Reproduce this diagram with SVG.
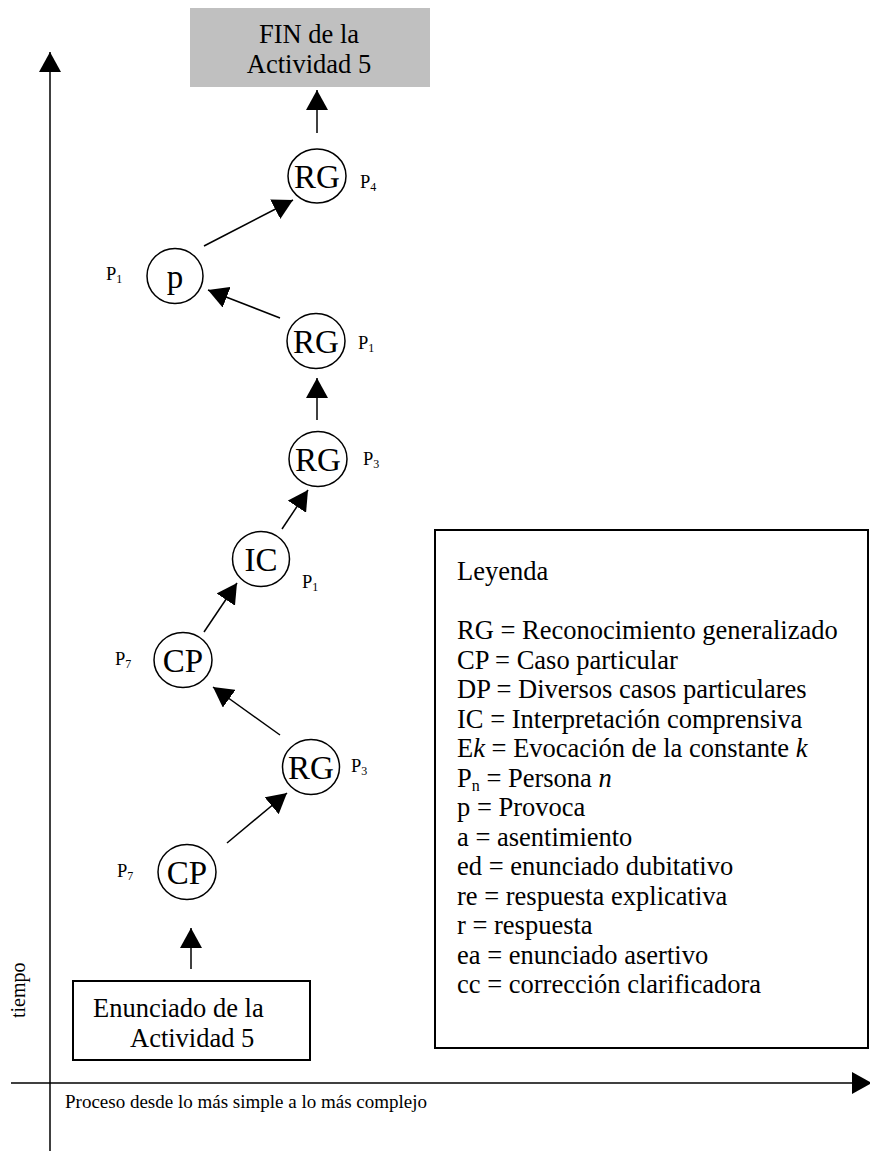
<svg xmlns="http://www.w3.org/2000/svg" width="870" height="1151" viewBox="0 0 870 1151">
  <style>
    .t { font-family: "Liberation Serif", "Times New Roman", serif; fill: #000; }
    .node { fill: #fff; stroke: #000; stroke-width: 1.5; }
    .lbl { font-size: 33px; text-anchor: middle; }
    .p { font-size: 18.5px; }
    .sub { font-size: 12px; }
    .edge { stroke: #000; stroke-width: 1.5; fill: none; marker-end: url(#ah); }
    .leg { font-size: 26.5px; }
  </style>
  <defs>
    <marker id="ah" viewBox="0 0 20 22" refX="20" refY="11" markerWidth="20" markerHeight="22" markerUnits="userSpaceOnUse" orient="auto">
      <path d="M0,0 L20,11 L0,22 Z" fill="#000"/>
    </marker>
  </defs>

  <!-- axes -->
  <g id="axes">
    <line x1="50" y1="1151" x2="50" y2="52" class="edge" stroke-width="2"/>
    <line x1="11" y1="1083" x2="872" y2="1083" class="edge" stroke-width="2"/>
    <text class="t" font-size="20" transform="translate(25,1018) rotate(-90)">tiempo</text>
    <text class="t" font-size="19" x="65" y="1108">Proceso desde lo más simple a lo más complejo</text>
  </g>

  <!-- start and end boxes -->
  <g id="fin">
    <rect x="190" y="8" width="240" height="79" fill="#c0c0c0"/>
    <text class="t" font-size="26.5" x="309" y="43" text-anchor="middle">FIN de la</text>
    <text class="t" font-size="26.5" x="309" y="73" text-anchor="middle">Actividad 5</text>
  </g>
  <g id="enunciado">
    <rect x="73" y="981" width="237" height="79" fill="#fff" stroke="#000" stroke-width="2"/>
    <text class="t" font-size="26.5" x="93" y="1017">Enunciado de la</text>
    <text class="t" font-size="26.5" x="130" y="1047">Actividad 5</text>
  </g>

  <!-- process nodes -->
  <g id="rg4">
    <ellipse class="node" cx="317" cy="176" rx="29" ry="27"/>
    <text class="t lbl" x="317" y="188">RG</text>
    <text class="t p" x="360" y="188">P<tspan class="sub" dy="3">4</tspan></text>
  </g>
  <g id="p1">
    <ellipse class="node" cx="175" cy="276" rx="28" ry="27.5"/>
    <text class="t lbl" x="175" y="288">p</text>
    <text class="t p" x="106" y="280">P<tspan class="sub" dy="3">1</tspan></text>
  </g>
  <g id="rg1">
    <ellipse class="node" cx="316" cy="341" rx="29" ry="27.5"/>
    <text class="t lbl" x="316" y="353">RG</text>
    <text class="t p" x="358" y="349">P<tspan class="sub" dy="3">1</tspan></text>
  </g>
  <g id="rg3a">
    <ellipse class="node" cx="318" cy="459" rx="29" ry="27.5"/>
    <text class="t lbl" x="318" y="471">RG</text>
    <text class="t p" x="363" y="465">P<tspan class="sub" dy="3">3</tspan></text>
  </g>
  <g id="ic1">
    <ellipse class="node" cx="261" cy="559" rx="28.5" ry="27.5"/>
    <text class="t lbl" x="261" y="571">IC</text>
    <text class="t p" x="302" y="588">P<tspan class="sub" dy="3">1</tspan></text>
  </g>
  <g id="cp7a">
    <ellipse class="node" cx="183" cy="660" rx="29" ry="27.5"/>
    <text class="t lbl" x="183" y="672">CP</text>
    <text class="t p" x="115" y="665">P<tspan class="sub" dy="3">7</tspan></text>
  </g>
  <g id="rg3b">
    <ellipse class="node" cx="311" cy="767" rx="28.5" ry="27.5"/>
    <text class="t lbl" x="311" y="779">RG</text>
    <text class="t p" x="351" y="772">P<tspan class="sub" dy="3">3</tspan></text>
  </g>
  <g id="cp7b">
    <ellipse class="node" cx="187" cy="872" rx="29" ry="27.5"/>
    <text class="t lbl" x="187" y="884">CP</text>
    <text class="t p" x="117" y="877">P<tspan class="sub" dy="3">7</tspan></text>
  </g>

  <!-- connectors -->
  <g id="edges">
    <line class="edge" x1="191" y1="969" x2="191" y2="928"/>
    <line class="edge" x1="227" y1="843" x2="287" y2="793"/>
    <line class="edge" x1="280" y1="735" x2="213" y2="687"/>
    <line class="edge" x1="204" y1="632" x2="237" y2="583"/>
    <line class="edge" x1="282" y1="529" x2="308" y2="490"/>
    <line class="edge" x1="317" y1="420" x2="317" y2="378"/>
    <line class="edge" x1="280" y1="318" x2="208" y2="290"/>
    <line class="edge" x1="204" y1="246" x2="293" y2="200"/>
    <line class="edge" x1="317" y1="133" x2="317" y2="90"/>
  </g>

  <!-- legend -->
  <g id="legend">
    <rect x="435" y="530" width="433" height="518" fill="#fff" stroke="#000" stroke-width="2"/>
    <text class="t leg" x="457" y="580">Leyenda</text>
    <text class="t leg" x="457" y="639">RG = Reconocimiento generalizado</text>
    <text class="t leg" x="457" y="668.5">CP = Caso particular</text>
    <text class="t leg" x="457" y="698">DP = Diversos casos particulares</text>
    <text class="t leg" x="457" y="727.5">IC = Interpretación comprensiva</text>
    <text class="t leg" x="457" y="757">E<tspan font-style="italic">k</tspan> = Evocación de la constante <tspan font-style="italic">k</tspan></text>
    <text class="t leg" x="457" y="786.5">P<tspan font-size="16" dy="4">n</tspan><tspan dy="-4"> = Persona </tspan><tspan font-style="italic">n</tspan></text>
    <text class="t leg" x="457" y="816">p = Provoca</text>
    <text class="t leg" x="457" y="845.5">a = asentimiento</text>
    <text class="t leg" x="457" y="875">ed = enunciado dubitativo</text>
    <text class="t leg" x="457" y="904.5">re = respuesta explicativa</text>
    <text class="t leg" x="457" y="934">r = respuesta</text>
    <text class="t leg" x="457" y="963.5">ea = enunciado asertivo</text>
    <text class="t leg" x="457" y="993">cc = corrección clarificadora</text>
  </g>
</svg>
